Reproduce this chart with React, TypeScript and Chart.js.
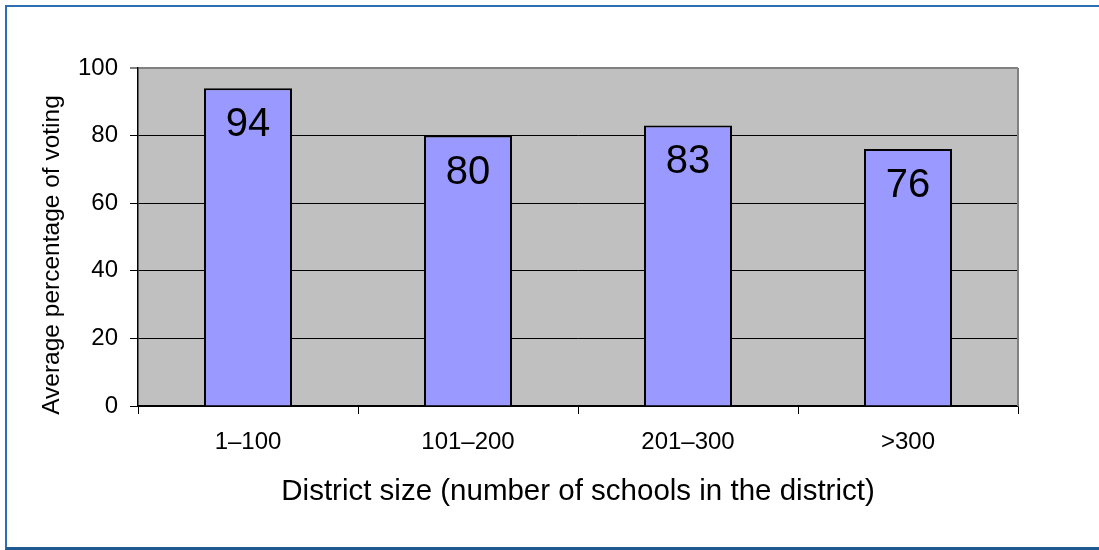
import React, { useEffect, useRef } from "react";
import { Chart, registerables } from "chart.js";

Chart.register(...registerables);

// Chart data
const categories = ["1–100", "101–200", "201–300", ">300"];
const votingShare = [94, 80, 83, 76];
const yMin = 0;
const yMax = 100;
const yStep = 20;
const yTitle = "Average percentage of voting";
const xTitle = "District size (number of schools in the district)";

const FONT = "'Liberation Sans', Arial, sans-serif";

// Grey plot area with a grey frame on its right side
const plotFrame = {
  id: "plotFrame",
  beforeDraw(chart: any) {
    const { ctx, chartArea: a } = chart;
    ctx.save();
    ctx.fillStyle = "#C0C0C0";
    ctx.fillRect(a.left, a.top, a.right - a.left, a.bottom - a.top);
    ctx.restore();
  },
  afterDraw(chart: any) {
    const { ctx, chartArea: a } = chart;
    ctx.save();
    ctx.strokeStyle = "#808080";
    ctx.lineWidth = 2;
    ctx.beginPath();
    ctx.moveTo(a.right, a.top);
    ctx.lineTo(a.right, a.bottom);
    ctx.stroke();
    ctx.restore();
  },
};

// Value printed inside the top of each bar
const barValues = {
  id: "barValues",
  afterDatasetsDraw(chart: any) {
    const { ctx } = chart;
    const meta = chart.getDatasetMeta(0);
    const values = chart.data.datasets[0].data as number[];
    ctx.save();
    ctx.font = `40px ${FONT}`;
    ctx.fillStyle = "#000";
    ctx.textAlign = "center";
    ctx.textBaseline = "middle";
    meta.data.forEach((bar: any, i: number) => {
      ctx.fillText(String(values[i]), bar.x, bar.y + 37);
    });
    ctx.restore();
  },
};

// Vertical axis title
const yAxisTitle = {
  id: "yAxisTitle",
  afterDraw(chart: any) {
    const { ctx } = chart;
    ctx.save();
    ctx.translate(52.5, 255);
    ctx.rotate(-Math.PI / 2);
    ctx.font = `24.5px ${FONT}`;
    ctx.fillStyle = "#000";
    ctx.textAlign = "center";
    ctx.textBaseline = "middle";
    ctx.fillText(yTitle, 0, 0);
    ctx.restore();
  },
};

export default function App() {
  const canvasRef = useRef<HTMLCanvasElement | null>(null);

  useEffect(() => {
    if (!canvasRef.current) return;
    const chart = new Chart(canvasRef.current, {
      type: "bar",
      data: {
        labels: categories,
        datasets: [
          {
            data: votingShare,
            backgroundColor: "#9999FF",
            borderColor: "#000000",
            borderWidth: 2,
            barPercentage: 0.4,
            categoryPercentage: 1,
          },
        ],
      },
      options: {
        responsive: false,
        animation: false,
        devicePixelRatio: 1,
        layout: { padding: { top: 68, right: 81, left: 0, bottom: 0 } },
        plugins: {
          legend: { display: false },
          tooltip: { enabled: false },
        },
        scales: {
          x: {
            offset: true,
            afterFit: (s: any) => {
              s.height = 144;
            },
            grid: {
              offset: true,
              drawOnChartArea: false,
              drawTicks: true,
              tickLength: 8,
              tickColor: "#000",
              tickWidth: 1,
            },
            border: { color: "#000", width: 1.5 },
            ticks: {
              color: "#000",
              font: { family: FONT, size: 24 },
              padding: 14,
              maxRotation: 0,
            },
            title: {
              display: true,
              text: xTitle,
              color: "#000",
              font: { family: FONT, size: 29.5 },
              padding: { top: 0, bottom: 40 },
            },
          },
          y: {
            min: yMin,
            max: yMax,
            afterFit: (s: any) => {
              s.width = 138;
            },
            grid: {
              color: (c: any) => (c.tick && c.tick.value === yMax ? "#808080" : "#000"),
              lineWidth: (c: any) => (c.tick && c.tick.value === yMax ? 2 : 1),
              tickLength: 8,
              tickColor: "#000",
              tickWidth: 1,
            },
            border: { color: "#000", width: 1.5 },
            ticks: {
              stepSize: yStep,
              color: "#000",
              font: { family: FONT, size: 24 },
              padding: 12,
            },
          },
        },
      },
      plugins: [plotFrame, barValues, yAxisTitle],
    });
    return () => chart.destroy();
  }, []);

  return (
    <div style={{ position: "absolute", left: 0, top: 0, width: 1099, height: 550, background: "#fff" }}>
      <canvas ref={canvasRef} width={1099} height={550} style={{ display: "block" }} />
      <div
        style={{
          position: "absolute",
          left: 5,
          top: 5,
          width: 1094,
          height: 545,
          boxSizing: "border-box",
          borderLeft: "2px solid #2C6FB2",
          borderTop: "2px solid #2C6FB2",
          borderBottom: "3px solid #1E5A90",
          pointerEvents: "none",
        }}
      />
    </div>
  );
}
